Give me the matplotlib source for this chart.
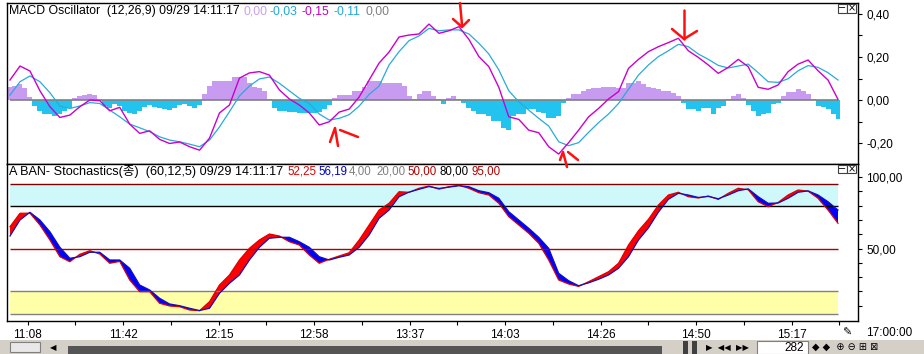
import numpy as np
import matplotlib.pyplot as plt
from matplotlib.patches import Rectangle
from matplotlib.lines import Line2D

plt.rcParams['font.family'] = ['Liberation Sans', 'Noto Sans CJK KR', 'DejaVu Sans']

# ---- data (lines: one sample every ~10 px, 84 bars) ----
macd = [0.093, 0.158, 0.135, 0.043, -0.031, -0.081, -0.070, -0.031, 0.000, -0.003,
        -0.050, -0.034, -0.112, -0.155, -0.143, -0.183, -0.202, -0.195, -0.217, -0.233,
        -0.177, -0.060, -0.023, 0.102, 0.126, 0.132, 0.116, 0.047, 0.005, -0.023,
        -0.060, -0.116, -0.101, -0.056, -0.042, 0.014, 0.093, 0.172, 0.223, 0.293,
        0.302, 0.307, 0.353, 0.310, 0.322, 0.341, 0.282, 0.202, 0.155, 0.059,
        -0.078, -0.090, -0.140, -0.152, -0.217, -0.251, -0.198, -0.140, -0.078, -0.039,
        0.005, 0.039, 0.147, 0.189, 0.225, 0.248, 0.267, 0.287, 0.229, 0.198,
        0.163, 0.124, 0.152, 0.189, 0.155, 0.059, 0.050, 0.070, 0.132, 0.167,
        0.186, 0.136, 0.093, 0.003]
signal = [0.023, 0.085, 0.112, 0.085, 0.034, -0.028, -0.039, -0.028, -0.012, -0.016,
          -0.047, -0.078, -0.112, -0.129, -0.147, -0.171, -0.186, -0.194, -0.205, -0.217,
          -0.186, -0.125, -0.054, 0.019, 0.065, 0.098, 0.107, 0.078, 0.043, 0.008,
          -0.016, -0.065, -0.093, -0.085, -0.068, -0.028, 0.026, 0.065, 0.163, 0.225,
          0.276, 0.298, 0.333, 0.322, 0.326, 0.326, 0.307, 0.264, 0.214, 0.140,
          0.043, -0.008, -0.047, -0.085, -0.121, -0.194, -0.212, -0.198, -0.150, -0.105,
          -0.065, -0.016, 0.050, 0.116, 0.163, 0.202, 0.229, 0.259, 0.248, 0.214,
          0.189, 0.161, 0.149, 0.158, 0.167, 0.127, 0.085, 0.082, 0.099, 0.136,
          0.160, 0.152, 0.127, 0.093]
# oscillator histogram, twice the resolution of the lines
oscillator = [0.062, 0.065, 0.073, 0.057, 0.014, -0.028, -0.051, -0.067, -0.067, -0.074,
              -0.067, -0.051, -0.036, 0.011, 0.019, 0.023, 0.029, 0.022, 0.006, -0.028,
              -0.036, -0.020, -0.028, -0.051, -0.062, -0.064, -0.051, -0.031, -0.022, -0.031,
              -0.039, -0.043, -0.047, -0.036, -0.025, -0.017, -0.028, -0.036, -0.025, 0.027,
              0.065, 0.088, 0.088, 0.088, 0.088, 0.108, 0.108, 0.108, 0.080, 0.062,
              0.057, 0.042, 0.003, -0.036, -0.051, -0.053, -0.056, -0.056, -0.062, -0.062,
              -0.062, -0.062, -0.056, -0.043, -0.025, 0.011, 0.023, 0.023, 0.023, 0.042,
              0.042, 0.062, 0.088, 0.088, 0.088, 0.080, 0.080, 0.080, 0.078, 0.065,
              0.019, 0.006, 0.027, 0.042, 0.040, 0.019, 0.003, -0.020, 0.011, 0.019,
              0.006, -0.013, -0.036, -0.051, -0.067, -0.067, -0.074, -0.098, -0.098, -0.129,
              -0.141, -0.074, -0.067, -0.067, -0.043, -0.043, -0.056, -0.059, -0.082, -0.082,
              -0.074, -0.013, 0.011, 0.027, 0.027, 0.042, 0.050, 0.054, 0.057, 0.062,
              0.062, 0.062, 0.057, 0.057, 0.080, 0.080, 0.088, 0.073, 0.062, 0.057,
              0.050, 0.042, 0.042, 0.034, 0.019, -0.013, -0.043, -0.043, -0.051, -0.036,
              -0.036, -0.067, -0.036, -0.028, 0.006, 0.019, 0.029, 0.011, -0.025, -0.051,
              -0.074, -0.067, -0.059, -0.020, -0.015, 0.019, 0.037, 0.037, 0.050, 0.042,
              0.027, 0.006, -0.028, -0.031, -0.043, -0.067, -0.090]
stoch_k = [65.3, 74.7, 74.8, 66.5, 56.0, 44.3, 40.8, 46.0, 48.5, 46.2,
           39.7, 41.0, 28.0, 19.8, 19.8, 11.7, 9.8, 9.3, 7.0, 6.5,
           12.8, 24.5, 31.5, 42.0, 50.2, 56.0, 60.2, 58.8, 54.8, 52.5,
           45.5, 39.7, 42.5, 44.8, 47.1, 56.0, 66.5, 77.0, 81.7, 89.8,
           89.4, 92.2, 93.8, 91.6, 93.3, 94.3, 92.2, 89.1, 87.5, 81.7,
           72.3, 66.5, 60.7, 53.7, 42.0, 28.0, 25.2, 23.5, 26.8, 30.3,
           33.8, 39.7, 52.5, 62.5, 70.5, 80.5, 87.5, 89.4, 86.3, 85.4,
           86.8, 84.4, 88.7, 92.2, 91.2, 82.8, 79.3, 82.3, 87.5, 91.0,
           90.2, 85.2, 77.0, 67.7]
stoch_d = [58.8, 70.0, 75.4, 70.0, 61.8, 50.9, 43.2, 44.3, 47.4, 47.4,
           42.0, 42.0, 36.2, 24.5, 21.0, 15.2, 11.2, 10.0, 8.2, 6.6,
           8.2, 18.7, 25.7, 31.5, 42.0, 50.9, 57.2, 57.9, 57.9, 54.8,
           50.9, 44.3, 42.0, 43.9, 45.5, 50.9, 59.5, 71.2, 77.0, 86.3,
           89.5, 91.5, 93.4, 92.1, 93.0, 94.0, 93.3, 90.5, 89.1, 85.2,
           75.8, 70.0, 64.2, 57.9, 50.2, 32.7, 27.5, 24.0, 26.0, 28.5,
           31.5, 36.2, 44.3, 56.0, 64.5, 75.5, 84.5, 88.7, 87.5, 85.8,
           86.5, 84.9, 87.5, 90.5, 91.8, 86.3, 81.7, 81.9, 85.2, 89.4,
           90.4, 87.5, 82.8, 77.0]

time_labels = ["11:08", "11:42", "12:15", "12:58", "13:37", "14:03", "14:26", "14:50", "15:17"]
macd_ticks = [-0.2, 0.0, 0.2, 0.4]
macd_tick_labels = ["-0,20", "0,00", "0,20", "0,40"]
stoch_ticks = [50, 100]
stoch_tick_labels = ["50,00", "100,00"]

# ---- layout in screen pixels ----
W, H = 924, 354
fig = plt.figure(figsize=(W / 100, H / 100), dpi=100)
fig.patch.set_facecolor("white")


def box(x0, y0, x1, y1):
    return [x0 / W, 1 - y1 / H, (x1 - x0) / W, (y1 - y0) / H]


def ptext(px, py, s, color="black", size=8.8, ha="left", **kw):
    fig.text(px / W, 1 - py / H, s, color=color, fontsize=size, ha=ha, va="center", **kw)


def prect(x0, y0, x1, y1, **kw):
    fig.add_artist(Rectangle((x0 / W, 1 - y1 / H), (x1 - x0) / W, (y1 - y0) / H,
                             transform=fig.transFigure, **kw))


def pline(pts, **kw):
    xs = [p[0] / W for p in pts]
    ys = [1 - p[1] / H for p in pts]
    fig.add_artist(Line2D(xs, ys, transform=fig.transFigure, **kw))


n = len(macd)
x = np.arange(n)
xh = np.linspace(0, n - 1, len(oscillator))
step = 828 / (n - 1)              # pixels per bar
xlim = ((7 - 10) / step, (858 - 10) / step)

ax1 = fig.add_axes(box(7, 3, 858, 163.5))
ax2 = fig.add_axes(box(7, 164.3, 858, 320.7))

# MACD panel
osc = np.array(oscillator)
ax1.bar(xh, osc, width=xh[1] - xh[0], color=np.where(osc >= 0, "#C79BEF", "#22C3EE"),
        linewidth=0)
ax1.hlines(0, x[0], x[-1], color="#808080", lw=1.2)
ax1.plot(x, signal, color="#2AAAD8", lw=0.9)
ax1.plot(x, macd, color="#CC00CC", lw=1.0)
ax1.set_xlim(*xlim)
ax1.set_ylim(-0.295, 0.451)
ax1.set_xticks([])
ax1.yaxis.tick_right()
ax1.set_yticks(macd_ticks, macd_tick_labels)
ax1.set_yticks(np.arange(-0.2, 0.45, 0.1), minor=True)

# Stochastics panel
k = np.array(stoch_k)
d = np.array(stoch_d)
ax2.fill_between([x[0], x[-1]], 80, 95, color="#CFF8FA", lw=0)
ax2.fill_between([x[0], x[-1]], 4, 20, color="#FFFFA8", lw=0)
ax2.hlines([95, 80, 50, 20, 4], x[0], x[-1],
           colors=["#800000", "black", "#B00000", "#808080", "#808080"], lw=1)
ax2.fill_between(x, k, d, where=k >= d, interpolate=True, color="#FF0000", lw=0)
ax2.fill_between(x, k, d, where=k < d, interpolate=True, color="#0000FF", lw=0)
ax2.plot(x, k, color="#E00000", lw=0.9)
ax2.plot(x, d, color="#1010C0", lw=0.9)
ax2.set_xlim(*xlim)
ax2.set_ylim(-0.5, 109)
ax2.yaxis.tick_right()
ax2.set_yticks(stoch_ticks, stoch_tick_labels)
ax2.set_yticks(np.arange(10, 101, 10), minor=True)
first = (27.7 - 10) / step
ax2.set_xticks(first + np.arange(len(time_labels)) * 95.5 / step, time_labels)
ax2.set_xticks(first + np.arange(2 * len(time_labels)) * 47.75 / step, minor=True)

for ax in (ax1, ax2):
    for sp in ax.spines.values():
        sp.set_color("black")
        sp.set_linewidth(1)
    ax.tick_params(which="both", direction="out", length=3, width=0.8, labelsize=8.5, pad=3)

# titles with coloured values
ptext(9, 11, "MACD Oscillator  (12,26,9) 09/29 14:11:17")
for px, s, c in [(244, "0,00", "#C8A0EC"), (269, "-0,03", "#20A8D0"), (302, "-0,15", "#C000C0"),
                 (334, "-0,11", "#20A8D0"), (366, "0,00", "#808080")]:
    ptext(px, 11, s, color=c)
ptext(9, 172, "A BAN- Stochastics(종)  (60,12,5) 09/29 14:11:17", size=9.1)
for px, s, c in [(287, "52,25", "#E00000"), (318, "56,19", "#0000C0"), (349, "4,00", "#808080"),
                 (376, "20,00", "#808080"), (407, "50,00", "#B00000"), (439, "80,00", "black"),
                 (472, "95,00", "#B00000")]:
    ptext(px, 172, s, color=c, size=8.3)

# panel buttons
for y0 in (4, 165):
    for x0, sym in ((838, "−"), (847, "×")):
        prect(x0, y0, x0 + 8.5, y0 + 8.5, facecolor="white", edgecolor="#404040", lw=0.8)
        ptext(x0 + 4.3, y0 + 4.3, sym, size=7, ha="center", family="DejaVu Sans")

# hand drawn red arrows
red = dict(color="#FF1010", lw=1.8, solid_capstyle="round")
pline([(330, 142), (335, 128), (338, 146)], **red)
pline([(340, 130), (358, 137)], **red)
pline([(460, 3), (462, 25)], **red)
pline([(453, 19), (462, 27), (469, 20)], **red)
pline([(560, 160), (563, 152), (567, 167)], **red)
pline([(568, 152), (578, 160)], **red)
pline([(684, 10), (684, 39)], **red)
pline([(672, 29), (684, 39), (697, 31)], **red)

# bottom navigation strip
prect(0, 340, W, H, facecolor="#D4D0C8", edgecolor="none")
prect(68, 346, 662, H, facecolor="#555555", edgecolor="none")
prect(10, 342, 40, 352, facecolor="#E8E8E8", edgecolor="#808080", lw=0.8)
ptext(50, 348, "◀", size=6, family="DejaVu Sans")
prect(683, 341, 688, H, facecolor="#404040", edgecolor="none")
prect(692, 341, 697, H, facecolor="#404040", edgecolor="none")
ptext(706, 348, "▶  ◀◀  ▶▶", size=6, family="DejaVu Sans")
prect(757, 341, 808, H, facecolor="white", edgecolor="#808080", lw=0.8)
ptext(804, 348, "282", size=8.5, ha="right")
ptext(812, 348, "◆ ◆  ⊕ ⊖ ⊞ ⊠", size=7, family="DejaVu Sans")
ptext(842, 333, "✎", size=8, family="DejaVu Sans")
ptext(866, 333, "17:00:00", size=8.5)

fig.savefig("out.png", dpi=100)
